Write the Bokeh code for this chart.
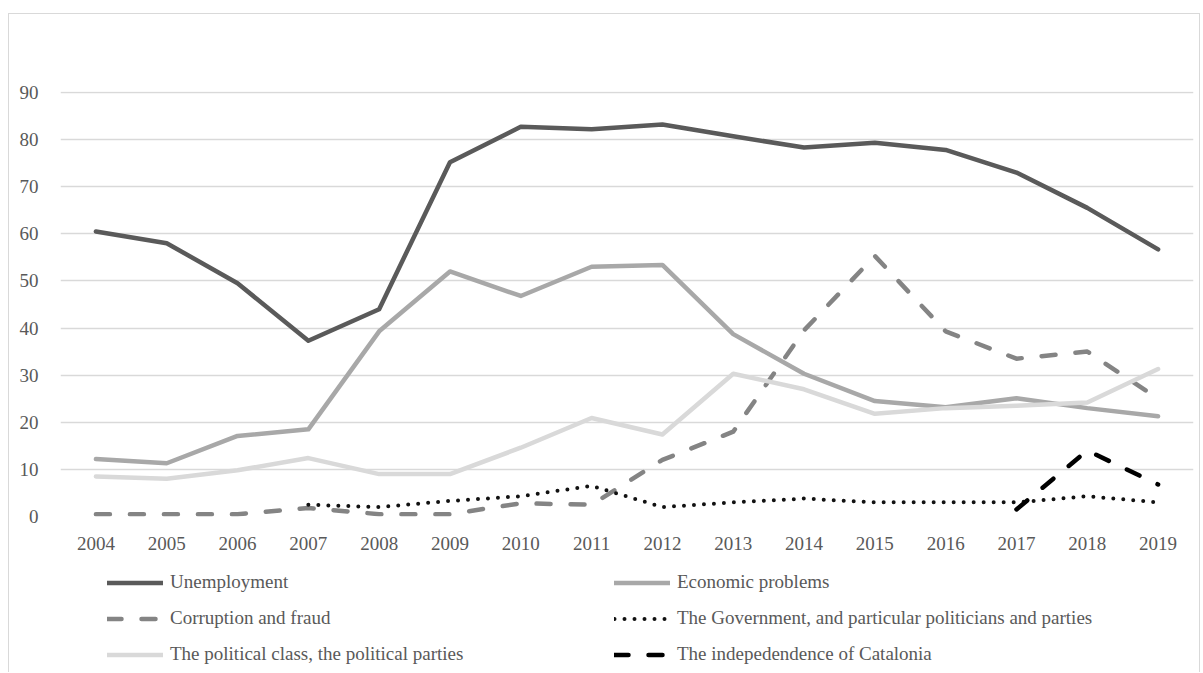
from bokeh.plotting import figure
from bokeh.layouts import column, row
from bokeh.models import Range1d, FactorRange, FixedTicker, Legend, LegendItem, Spacer
from bokeh.embed import file_html
from bokeh.resources import INLINE

nan = float("nan")

years = ["2004", "2005", "2006", "2007", "2008", "2009", "2010", "2011",
         "2012", "2013", "2014", "2015", "2016", "2017", "2018", "2019"]

unemployment = [60.5, 58.0, 49.5, 37.3, 44.0, 75.2, 82.7, 82.2, 83.2, 80.7,
                78.3, 79.3, 77.8, 73.0, 65.5, 56.7]
economic = [12.2, 11.3, 17.1, 18.5, 39.3, 52.0, 46.8, 53.0, 53.4, 38.7,
            30.3, 24.5, 23.2, 25.1, 23.0, 21.3]
corruption = [0.5, 0.5, 0.5, 1.8, 0.5, 0.5, 2.8, 2.5, 12.0, 18.0,
              39.5, 55.3, 39.3, 33.5, 35.0, 25.0]
government = [nan, nan, nan, 2.5, 2.0, 3.3, 4.3, 6.5, 2.0, 3.0,
              3.8, 3.0, 3.0, 3.0, 4.3, 3.0]
political_class = [8.5, 8.0, 9.8, 12.4, 9.0, 9.0, 14.6, 20.9, 17.4, 30.3,
                   27.0, 21.8, 23.0, 23.5, 24.2, 31.3]
independence = [nan, nan, nan, nan, nan, nan, nan, nan, nan, nan,
                nan, nan, nan, 1.5, 14.0, 6.8]

y_ticks = [0, 10, 20, 30, 40, 50, 60, 70, 80, 90]

labels = ["Unemployment", "Economic problems", "Corruption and fraud",
          "The Government, and particular politicians and parties",
          "The political class, the political parties",
          "The indepedendence of Catalonia"]

FONT = "Liberation Serif"
TEXT = "#595959"
BORDER = "1px solid #d9d9d9"

styles = [
    dict(line_color="#5a5a5a", line_width=4.5),
    dict(line_color="#a8a8a8", line_width=4.5),
    dict(line_color="#848484", line_width=4.5, line_dash="14 20"),
    dict(line_color="#111111", line_width=4, line_dash="0 10"),
    dict(line_color="#d9d9d9", line_width=4.5),
    dict(line_color="#000000", line_width=4.5, line_dash="14 20"),
]
series = [unemployment, economic, corruption, government, political_class, independence]

# ---- main chart ----
p = figure(width=1192, height=542, x_range=FactorRange(factors=years, range_padding=0),
           y_range=Range1d(0, 90.2), output_backend="svg", toolbar_location=None,
           min_border_left=51, min_border_right=8, min_border_top=77, min_border_bottom=40)
p.styles = {"border-top": BORDER, "border-left": BORDER, "border-right": BORDER}
p.outline_line_color = None
p.xgrid.grid_line_color = None
p.ygrid.grid_line_color = "#d9d9d9"
p.ygrid.grid_line_width = 1.3
p.yaxis.ticker = FixedTicker(ticks=y_ticks)

for ax in (p.xaxis, p.yaxis):
    ax.axis_line_color = None
    ax.major_tick_line_color = None
    ax.minor_tick_line_color = None
    ax.major_label_text_font = FONT
    ax.major_label_text_font_size = "19px"
    ax.major_label_text_color = TEXT
p.yaxis.major_label_standoff = 16
p.xaxis.major_label_standoff = 14

for vals, st in zip(series, styles):
    p.line(years, vals, line_cap="round", line_join="round", **st)

# ---- legend area: same series drawn outside its visible range, legend only ----
q = figure(width=1192, height=117, x_range=FactorRange(factors=years, range_padding=0),
           y_range=Range1d(-300, -200), output_backend="svg", toolbar_location=None,
           x_axis_location=None, y_axis_location=None,
           min_border_left=0, min_border_right=0, min_border_top=0, min_border_bottom=0)
q.styles = {"border-left": BORDER, "border-right": BORDER}
q.outline_line_color = None
q.xgrid.visible = False
q.ygrid.visible = False

renderers = []
for vals, st in zip(series, styles):
    renderers.append(q.line(years, vals, line_cap="round", line_join="round", **st))

# column-wise filling: left column, then right column
order = [0, 2, 4, 1, 3, 5]
items = [LegendItem(label=labels[i], renderers=[renderers[i]]) for i in order]

legend = Legend(items=items, ncols=2, location=(47, 7),
                glyph_width=56, glyph_height=21, label_standoff=7,
                label_width=430, label_height=21, spacing=14,
                padding=0, margin=0,
                border_line_color=None, background_fill_alpha=0,
                label_text_font=FONT, label_text_font_size="19px",
                label_text_color=TEXT)
q.add_layout(legend, "center")

layout = column(Spacer(width=1202, height=13),
                row(Spacer(width=8, height=659), column(p, q, spacing=0), spacing=0),
                spacing=0)
open("out.html", "w").write(file_html(layout, INLINE))
